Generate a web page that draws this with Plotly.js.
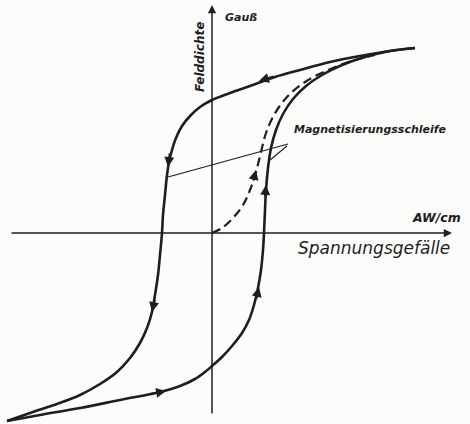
<!DOCTYPE html>
<html><head><meta charset="utf-8">
<script src="https://cdn.plot.ly/plotly-3.0.1.min.js"></script>
<style>html,body{margin:0;padding:0;background:#fcfcfb}</style>
</head><body><div id="chart" style="width:470px;height:424px"></div>
<script>
// Hysteresis loop, H in arbitrary AW/cm units, B in arbitrary Gauss units
const descH = [20.3,17.8,14.8,11.8,8.8,6.3,3.8,1.8,0,-1.2,-2.2,-3.0,-3.6,-4.0,-4.3,-4.5,-4.7,-4.9,-5.0,-5.2,-5.4,-5.7,-6.0,-6.5,-7.2,-8.2,-9.5,-11.2,-13.2,-15.5,-17.9,-20.5];
const descB = [18.5,18.2,17.7,17.1,16.3,15.6,14.7,14.0,13.3,12.6,11.7,10.7,9.5,8.3,7.1,5.8,3.8,1.8,0,-2.2,-4.2,-6.2,-7.9,-9.5,-11.0,-12.5,-13.9,-15.1,-16.2,-17.1,-17.9,-18.8];
const ascH = [-20.5,-17.2,-13.2,-9.2,-5.2,-3.2,-1.7,-0.7,0,1.0,2.0,3.0,3.7,4.2,4.6,4.9,5.1,5.2,5.3,5.4,5.6,5.9,6.4,7.1,8.1,9.4,11.0,13.0,15.3,17.8,20.3];
const ascB = [-18.8,-18.2,-17.5,-16.7,-15.9,-15.3,-14.6,-13.9,-13.3,-12.4,-11.3,-10.0,-8.7,-7.2,-5.5,-3.7,-1.7,0,2.3,4.3,6.5,8.5,10.3,11.9,13.4,14.7,15.8,16.8,17.6,18.2,18.5];
const virginH = [0,1.0,2.1,3.1,3.8,4.4,4.9,5.4,6.2,7.5,9.3,11.6,14.3,16.3];
const virginB = [0,0.5,1.5,2.8,4.3,6.1,8.1,10.0,11.8,13.6,15.1,16.3,17.3,17.8];
const labels = {
  loop: "Magnetisierungsschleife",
  xUnit: "AW/cm",
  xName: "Spannungsgefälle",
  yUnit: "Gauß",
  yName: "Felddichte"
};

const ink = '#1e1e1e';
const traces = [
  {x: descH, y: descB, mode:'lines', line:{color:ink, width:2.6, shape:'spline', smoothing:1}, hoverinfo:'skip'},
  {x: ascH, y: ascB, mode:'lines', line:{color:ink, width:2.6, shape:'spline', smoothing:1}, hoverinfo:'skip'},
  {x: virginH, y: virginB, mode:'lines', line:{color:ink, width:2.2, dash:'9px,5px', shape:'spline', smoothing:1}, hoverinfo:'skip'}
];

function arrow(hx, hy, tx, ty, w, s) {
  return {x:hx, y:hy, ax:tx, ay:ty, xref:'x', yref:'y', axref:'x', ayref:'y',
    text:'', showarrow:true, arrowhead:2, arrowsize:s||0.9, arrowwidth:w||2.2, arrowcolor:ink, standoff:0, startstandoff:0};
}
const font = (s, bold) => ({family:'DejaVu Sans', size:s, color:ink, style:'italic', weight: bold ? 'bold' : 'normal'});

const annotations = [
  // axes
  arrow(24.0, 0, -20.2, 0, 1.5, 1.1),
  arrow(0, 22.8, 0, -18.2, 1.5, 1.1),
  // direction arrows
  arrow(4.7, 15.2, 6.3, 15.7),
  arrow(-4.4, 6.6, -4.2, 8.1),
  arrow(-6.0, -7.9, -5.7, -6.5),
  arrow(-4.6, -15.8, -6.2, -16.1),
  arrow(4.7, -5.4, 4.4, -6.7),
  arrow(5.4, 4.8, 5.3, 3.5),
  arrow(4.4, 6.3, 4.1, 5.1),
  // texts
  {x:8.0, y:10.4, xref:'x', yref:'y', text:labels.loop, showarrow:false, xanchor:'left', yanchor:'middle', font:font(11,true)},
  {x:22.4, y:1.6, xref:'x', yref:'y', text:labels.xUnit, showarrow:false, xanchor:'center', yanchor:'middle', font:font(12.5,true)},
  {x:16.2, y:-1.5, xref:'x', yref:'y', text:labels.xName, showarrow:false, xanchor:'center', yanchor:'middle', font:font(17,false)},
  {x:1.1, y:21.6, xref:'x', yref:'y', text:labels.yUnit, showarrow:false, xanchor:'left', yanchor:'middle', font:font(11,true)},
  {x:-1.2, y:17.6, xref:'x', yref:'y', text:labels.yName, showarrow:false, textangle:-90, xanchor:'center', yanchor:'middle', font:font(12,true)}
];

const shapes = [
  {type:'line', xref:'x', yref:'y', x0:7.6, y0:8.9, x1:-4.4, y1:5.6, line:{color:ink, width:1.1}},
  {type:'line', xref:'x', yref:'y', x0:7.5, y0:8.7, x1:5.8, y1:7.3, line:{color:ink, width:1.1}}
];

const layout = {
  width:470, height:424,
  margin:{l:0, r:0, t:0, b:0},
  paper_bgcolor:'#fcfcfb', plot_bgcolor:'#fcfcfb',
  showlegend:false,
  xaxis:{visible:false, range:[-21.2, 25.8], fixedrange:true},
  yaxis:{visible:false, range:[-19.1, 23.3], fixedrange:true},
  annotations: annotations,
  shapes: shapes
};
Plotly.newPlot('chart', traces, layout, {staticPlot:true, displayModeBar:false});
</script></body></html>
